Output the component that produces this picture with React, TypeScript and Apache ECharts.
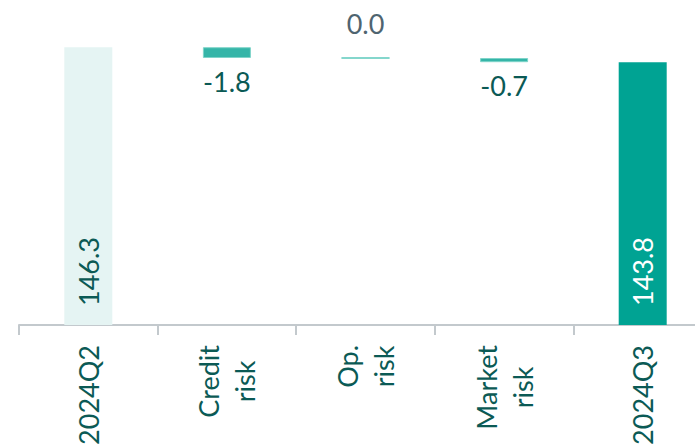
import React, { useEffect, useRef } from "react";
import * as echarts from "echarts";

// Capital bridge between two quarters (waterfall)
const categories: string[] = ["2024Q2", "Credit\nrisk", "Op.\nrisk", "Market\nrisk", "2024Q3"];
const values: number[] = [146.3, -1.8, 0.0, -0.7, 143.8];
const isTotal: boolean[] = [true, false, false, false, true];

const yMin = 100;
const yMax = 150;

const FONT = "Lato, 'Open Sans', sans-serif";
const DARK = "#0b5a55";
const FS = 27;

export default function App() {
  const ref = useRef<HTMLDivElement>(null);

  useEffect(() => {
    if (!ref.current) return;
    const chart = echarts.init(ref.current, undefined, { renderer: "svg" });

    // invisible base and visible step heights
    const base: number[] = [];
    const step: number[] = [];
    let running = 0;
    values.forEach((v, i) => {
      if (isTotal[i]) {
        base.push(0);
        step.push(v);
        running = v;
      } else {
        const next = running + v;
        base.push(Math.min(running, next));
        step.push(Math.abs(v));
        running = next;
      }
    });

    const totalLabel = (color: string) => ({
      show: true,
      position: "insideBottom",
      rotate: 90,
      align: "left",
      verticalAlign: "middle",
      distance: 19,
      color,
      fontSize: FS,
      fontFamily: FONT,
    });

    const stepData = values.map((v, i) => {
      if (i === 0) {
        return { value: step[i], itemStyle: { color: "#e5f4f3" }, label: totalLabel(DARK) };
      }
      if (i === values.length - 1) {
        return { value: step[i], itemStyle: { color: "#00a393" }, label: totalLabel("#ffffff") };
      }
      if (v === 0) {
        return {
          value: step[i],
          itemStyle: { color: "#35b5a8", borderColor: "#5cc9bc", borderWidth: 1 },
          label: { show: true, position: "top", distance: 21, color: "#4f6470", fontSize: FS, fontFamily: FONT },
        };
      }
      return {
        value: step[i],
        itemStyle: { color: "#35b5a8", borderColor: "#7fd4c9", borderWidth: 1 },
        label: { show: true, position: "bottom", distance: 10, color: DARK, fontSize: FS, fontFamily: FONT },
      };
    });

    chart.setOption({
      animation: false,
      grid: { left: 19, right: 0, top: 25, bottom: 123 },
      xAxis: {
        type: "category",
        data: categories,
        axisLine: { lineStyle: { color: "#c3c9cd", width: 2 } },
        axisTick: { show: true, length: 10, lineStyle: { color: "#c3c9cd", width: 2 } },
        axisLabel: {
          rotate: 90,
          margin: 20,
          interval: 0,
          formatter: (v: string) =>
            v
              .split("\n")
              .map((s) => `{c|${s}}`)
              .join("\n"),
          rich: {
            c: {
              align: "center",
              fontSize: FS,
              lineHeight: 36,
              color: DARK,
              fontFamily: FONT,
            },
          },
        },
      },
      yAxis: {
        type: "value",
        min: yMin,
        max: yMax,
        show: false,
        splitLine: { show: false },
      },
      series: [
        {
          type: "bar",
          stack: "bridge",
          data: base,
          barWidth: 48,
          itemStyle: { color: "transparent" },
          silent: true,
        },
        {
          type: "bar",
          stack: "bridge",
          data: stepData,
          barWidth: 48,
          label: {
            fontSize: FS,
            fontFamily: FONT,
            formatter: (p: any) => values[p.dataIndex].toFixed(1),
          },
        },
      ],
    });

    return () => chart.dispose();
  }, []);

  return (
    <div
      style={{
        position: "fixed",
        left: 0,
        top: 0,
        width: 695,
        height: 448,
        overflow: "hidden",
        background: "#ffffff",
      }}
    >
      <div ref={ref} style={{ width: 712, height: 448 }} />
    </div>
  );
}
